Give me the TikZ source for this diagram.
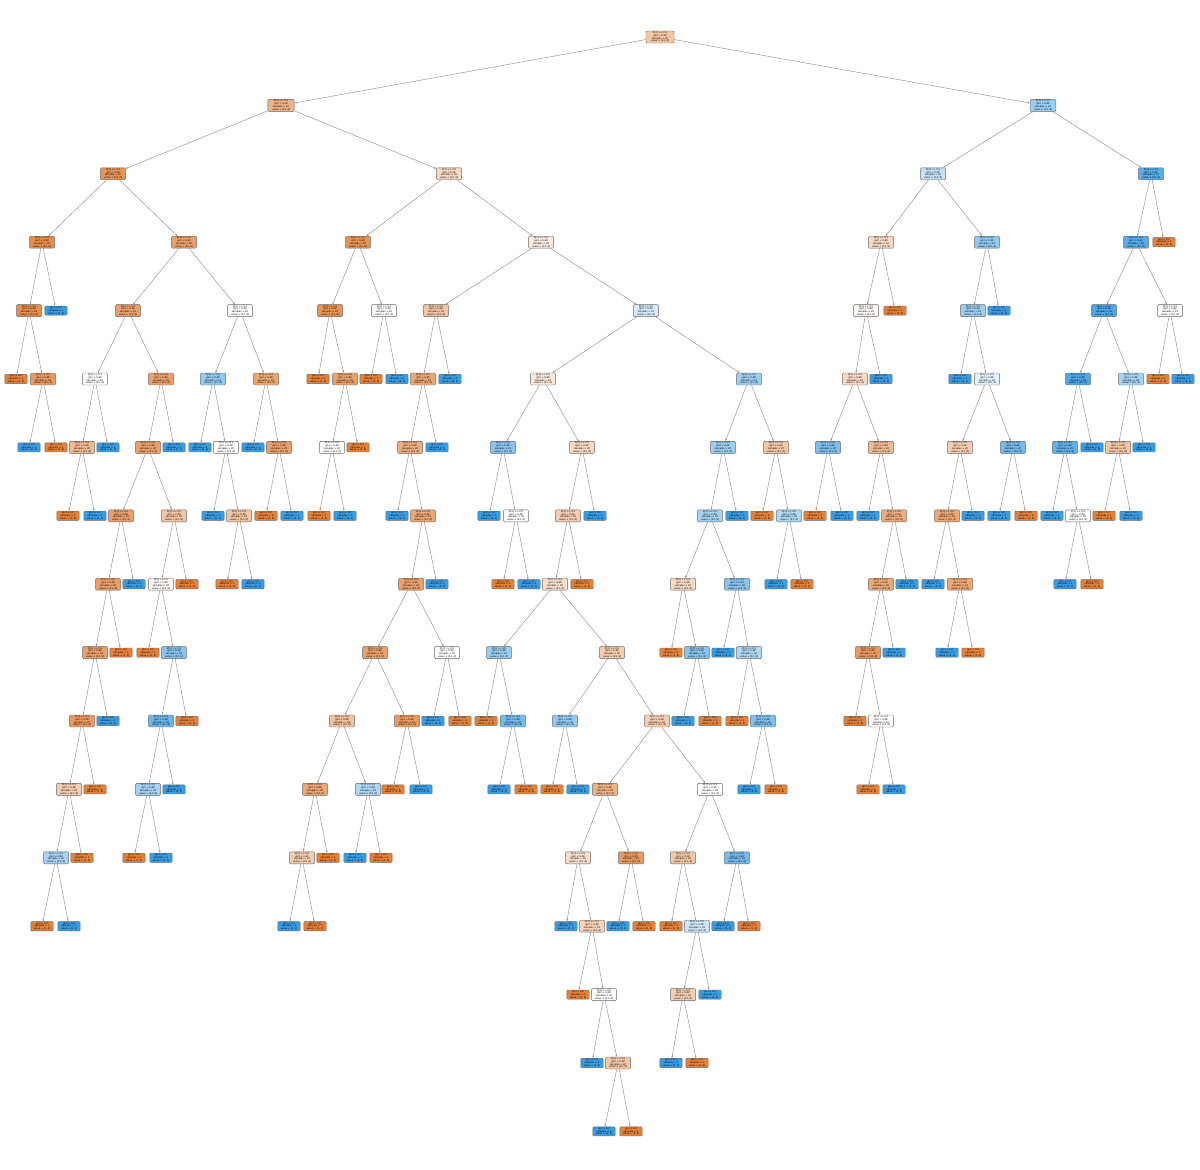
\documentclass[tikz,border=0pt]{standalone}
\usepackage{fontspec}
\newfontfamily\dv{DejaVu Sans}
\usetikzlibrary{arrows.meta}
\definecolor{org}{RGB}{229,129,57}
\definecolor{blu}{RGB}{57,157,229}
\newcommand{\lv}[1]{37+68.4*#1}
\newcommand{\stxt}{X[3] <= 0.5\\gini = 0.48\\samples = 20\\value = [12, 8]}
\newcommand{\otxt}{gini = 0.0\\samples = 1\\value = [1, 0]}
\newcommand{\btxt}{gini = 0.0\\samples = 1\\value = [0, 1]}
\tikzset{
  split/.style={draw=black!60, rounded corners=0.7pt, line width=0.3pt, align=center,
    inner sep=0.5pt, minimum width=0.62cm, font=\dv\fontsize{1.7}{2.0}\selectfont},
  leafo/.style={split, fill=org, minimum width=0.56cm},
  leafb/.style={split, fill=blu, minimum width=0.56cm},
  link/.style={draw=black!45, line width=0.3pt, -{Stealth[length=1.8pt, width=1.2pt]}}
}
\begin{document}
\begin{tikzpicture}[x=0.025cm, y=-0.025cm]
\fill[white] (0,0) rectangle (1200,1169);
\useasboundingbox (0,0) rectangle (1200,1169);
% level 0-3
\node[split, fill=org!45, minimum width=0.7cm] (n0x660) at (660,{\lv{0}}) {\stxt};
\node[split, fill=org!60, minimum width=0.66cm] (n1x281) at (281,{\lv{1}}) {\stxt};
\node[split, fill=blu!50, minimum width=0.64cm] (n1x1043) at (1043,{\lv{1}}) {\stxt};
\node[split, fill=org!85] (n2x113) at (113,{\lv{2}}) {\stxt};
\node[split, fill=org!30] (n2x449) at (449,{\lv{2}}) {\stxt};
\node[split, fill=blu!30] (n2x933) at (933,{\lv{2}}) {\stxt};
\node[split, fill=blu!85] (n2x1151) at (1151,{\lv{2}}) {\stxt};
\node[split, fill=org!90] (n3x42) at (42,{\lv{3}}) {\stxt};
\node[split, fill=org!75] (n3x184) at (184,{\lv{3}}) {\stxt};
\node[split, fill=org!85] (n3x358) at (358,{\lv{3}}) {\stxt};
\node[split, fill=org!15] (n3x541) at (541,{\lv{3}}) {\stxt};
\node[split, fill=org!30] (n3x881) at (881,{\lv{3}}) {\stxt};
\node[split, fill=blu!55] (n3x987) at (987,{\lv{3}}) {\stxt};
\node[split, fill=blu!85] (n3x1136) at (1136,{\lv{3}}) {\stxt};
\node[leafo] (n3x1164) at (1164,{\lv{3}}) {\otxt};
% level 4
\node[split, fill=org!90] (n4x29) at (29,{\lv{4}}) {\stxt};
\node[leafb] (n4x56) at (56,{\lv{4}}) {\btxt};
\node[split, fill=org!75] (n4x128) at (128,{\lv{4}}) {\stxt};
\node[split, fill=white] (n4x240) at (240,{\lv{4}}) {\stxt};
\node[split, fill=org!85] (n4x330) at (330,{\lv{4}}) {\stxt};
\node[split, fill=white] (n4x384) at (384,{\lv{4}}) {\stxt};
\node[split, fill=org!45] (n4x436) at (436,{\lv{4}}) {\stxt};
\node[split, fill=blu!20] (n4x646) at (646,{\lv{4}}) {\stxt};
\node[split, fill=org!5] (n4x866) at (866,{\lv{4}}) {\stxt};
\node[leafo] (n4x895) at (895,{\lv{4}}) {\otxt};
\node[split, fill=blu!50] (n4x973) at (973,{\lv{4}}) {\stxt};
\node[leafb] (n4x999) at (999,{\lv{4}}) {\btxt};
\node[split, fill=blu!90] (n4x1104) at (1104,{\lv{4}}) {\stxt};
\node[split, fill=white] (n4x1170) at (1170,{\lv{4}}) {\stxt};
% level 5
\node[leafo] (n5x16) at (16,{\lv{5}}) {\otxt};
\node[split, fill=org!80] (n5x43) at (43,{\lv{5}}) {\stxt};
\node[split, fill=white] (n5x95) at (95,{\lv{5}}) {\stxt};
\node[split, fill=org!75] (n5x161) at (161,{\lv{5}}) {\stxt};
\node[split, fill=blu!55] (n5x213) at (213,{\lv{5}}) {\stxt};
\node[split, fill=org!70] (n5x266) at (266,{\lv{5}}) {\stxt};
\node[leafo] (n5x318) at (318,{\lv{5}}) {\otxt};
\node[split, fill=org!75] (n5x345) at (345,{\lv{5}}) {\stxt};
\node[leafo] (n5x371) at (371,{\lv{5}}) {\otxt};
\node[leafb] (n5x397) at (397,{\lv{5}}) {\btxt};
\node[split, fill=org!70] (n5x423) at (423,{\lv{5}}) {\stxt};
\node[leafb] (n5x450) at (450,{\lv{5}}) {\btxt};
\node[split, fill=org!20] (n5x543) at (543,{\lv{5}}) {\stxt};
\node[split, fill=blu!50] (n5x749) at (749,{\lv{5}}) {\stxt};
\node[split, fill=org!30] (n5x855) at (855,{\lv{5}}) {\stxt};
\node[leafb] (n5x881) at (881,{\lv{5}}) {\btxt};
\node[leafb] (n5x960) at (960,{\lv{5}}) {\btxt};
\node[split, fill=blu!15] (n5x987) at (987,{\lv{5}}) {\stxt};
\node[split, fill=blu!90] (n5x1078) at (1078,{\lv{5}}) {\stxt};
\node[split, fill=blu!45] (n5x1131) at (1131,{\lv{5}}) {\stxt};
\node[leafo] (n5x1158) at (1158,{\lv{5}}) {\otxt};
\node[leafb] (n5x1183) at (1183,{\lv{5}}) {\btxt};
% level 6
\node[leafb] (n6x29) at (29,{\lv{6}}) {\btxt};
\node[leafo] (n6x56) at (56,{\lv{6}}) {\otxt};
\node[split, fill=org!55] (n6x82) at (82,{\lv{6}}) {\stxt};
\node[leafb] (n6x108) at (108,{\lv{6}}) {\btxt};
\node[split, fill=org!75] (n6x148) at (148,{\lv{6}}) {\stxt};
\node[leafb] (n6x174) at (174,{\lv{6}}) {\btxt};
\node[leafb] (n6x200) at (200,{\lv{6}}) {\btxt};
\node[split, fill=white] (n6x226) at (226,{\lv{6}}) {\stxt};
\node[leafb] (n6x253) at (253,{\lv{6}}) {\btxt};
\node[split, fill=org!75] (n6x279) at (279,{\lv{6}}) {\stxt};
\node[split, fill=white] (n6x332) at (332,{\lv{6}}) {\stxt};
\node[leafo] (n6x358) at (358,{\lv{6}}) {\otxt};
\node[split, fill=org!65] (n6x410) at (410,{\lv{6}}) {\stxt};
\node[leafb] (n6x437) at (437,{\lv{6}}) {\btxt};
\node[split, fill=blu!60] (n6x503) at (503,{\lv{6}}) {\stxt};
\node[split, fill=org!30] (n6x582) at (582,{\lv{6}}) {\stxt};
\node[split, fill=blu!50] (n6x723) at (723,{\lv{6}}) {\stxt};
\node[split, fill=org!45] (n6x776) at (776,{\lv{6}}) {\stxt};
\node[split, fill=blu!65] (n6x828) at (828,{\lv{6}}) {\stxt};
\node[split, fill=org!55] (n6x881) at (881,{\lv{6}}) {\stxt};
\node[split, fill=org!40] (n6x960) at (960,{\lv{6}}) {\stxt};
\node[split, fill=blu!70] (n6x1013) at (1013,{\lv{6}}) {\stxt};
\node[split, fill=blu!80] (n6x1065) at (1065,{\lv{6}}) {\stxt};
\node[leafb] (n6x1092) at (1092,{\lv{6}}) {\btxt};
\node[split, fill=org!45] (n6x1118) at (1118,{\lv{6}}) {\stxt};
\node[leafb] (n6x1144) at (1144,{\lv{6}}) {\btxt};
% level 7
\node[leafo] (n7x68) at (68,{\lv{7}}) {\otxt};
\node[leafb] (n7x95) at (95,{\lv{7}}) {\btxt};
\node[split, fill=org!75] (n7x121) at (121,{\lv{7}}) {\stxt};
\node[split, fill=org!45] (n7x174) at (174,{\lv{7}}) {\stxt};
\node[leafb] (n7x213) at (213,{\lv{7}}) {\btxt};
\node[split, fill=org!45] (n7x239) at (239,{\lv{7}}) {\stxt};
\node[leafo] (n7x266) at (266,{\lv{7}}) {\otxt};
\node[leafb] (n7x292) at (292,{\lv{7}}) {\btxt};
\node[leafo] (n7x319) at (319,{\lv{7}}) {\otxt};
\node[leafb] (n7x345) at (345,{\lv{7}}) {\btxt};
\node[leafb] (n7x397) at (397,{\lv{7}}) {\btxt};
\node[split, fill=org!70] (n7x423) at (423,{\lv{7}}) {\stxt};
\node[leafb] (n7x489) at (489,{\lv{7}}) {\btxt};
\node[split, fill=white] (n7x516) at (516,{\lv{7}}) {\stxt};
\node[split, fill=org!40] (n7x568) at (568,{\lv{7}}) {\stxt};
\node[leafb] (n7x595) at (595,{\lv{7}}) {\btxt};
\node[split, fill=blu!45] (n7x710) at (710,{\lv{7}}) {\stxt};
\node[leafb] (n7x737) at (737,{\lv{7}}) {\btxt};
\node[leafo] (n7x762) at (762,{\lv{7}}) {\otxt};
\node[split, fill=blu!40] (n7x789) at (789,{\lv{7}}) {\stxt};
\node[leafo] (n7x815) at (815,{\lv{7}}) {\otxt};
\node[leafb] (n7x842) at (842,{\lv{7}}) {\btxt};
\node[leafb] (n7x868) at (868,{\lv{7}}) {\btxt};
\node[split, fill=org!65] (n7x894) at (894,{\lv{7}}) {\stxt};
\node[split, fill=org!70] (n7x947) at (947,{\lv{7}}) {\stxt};
\node[leafb] (n7x973) at (973,{\lv{7}}) {\btxt};
\node[leafb] (n7x999) at (999,{\lv{7}}) {\btxt};
\node[leafo] (n7x1026) at (1026,{\lv{7}}) {\otxt};
\node[leafb] (n7x1052) at (1052,{\lv{7}}) {\btxt};
\node[split, fill=white] (n7x1078) at (1078,{\lv{7}}) {\stxt};
\node[leafo] (n7x1104) at (1104,{\lv{7}}) {\otxt};
\node[leafb] (n7x1131) at (1131,{\lv{7}}) {\btxt};
% level 8
\node[split, fill=org!75] (n8x108) at (108,{\lv{8}}) {\stxt};
\node[leafb] (n8x134) at (134,{\lv{8}}) {\btxt};
\node[split, fill=org!5] (n8x161) at (161,{\lv{8}}) {\stxt};
\node[leafo] (n8x187) at (187,{\lv{8}}) {\otxt};
\node[leafo] (n8x227) at (227,{\lv{8}}) {\otxt};
\node[leafb] (n8x253) at (253,{\lv{8}}) {\btxt};
\node[split, fill=org!75] (n8x411) at (411,{\lv{8}}) {\stxt};
\node[leafb] (n8x437) at (437,{\lv{8}}) {\btxt};
\node[leafo] (n8x503) at (503,{\lv{8}}) {\otxt};
\node[leafb] (n8x529) at (529,{\lv{8}}) {\btxt};
\node[split, fill=org!25] (n8x555) at (555,{\lv{8}}) {\stxt};
\node[leafo] (n8x582) at (582,{\lv{8}}) {\otxt};
\node[split, fill=org!30] (n8x683) at (683,{\lv{8}}) {\stxt};
\node[split, fill=blu!60] (n8x737) at (737,{\lv{8}}) {\stxt};
\node[leafb] (n8x776) at (776,{\lv{8}}) {\btxt};
\node[leafo] (n8x802) at (802,{\lv{8}}) {\otxt};
\node[split, fill=org!70] (n8x881) at (881,{\lv{8}}) {\stxt};
\node[leafb] (n8x907) at (907,{\lv{8}}) {\btxt};
\node[leafb] (n8x933) at (933,{\lv{8}}) {\btxt};
\node[split, fill=org!70] (n8x960) at (960,{\lv{8}}) {\stxt};
\node[leafb] (n8x1065) at (1065,{\lv{8}}) {\btxt};
\node[leafo] (n8x1092) at (1092,{\lv{8}}) {\otxt};
% level 9
\node[split, fill=org!75] (n9x95) at (95,{\lv{9}}) {\stxt};
\node[leafo] (n9x121) at (121,{\lv{9}}) {\otxt};
\node[leafo] (n9x148) at (148,{\lv{9}}) {\otxt};
\node[split, fill=blu!60] (n9x174) at (174,{\lv{9}}) {\stxt};
\node[split, fill=org!75] (n9x375) at (375,{\lv{9}}) {\stxt};
\node[split, fill=white] (n9x447) at (447,{\lv{9}}) {\stxt};
\node[split, fill=blu!50] (n9x499) at (499,{\lv{9}}) {\stxt};
\node[split, fill=org!40] (n9x612) at (612,{\lv{9}}) {\stxt};
\node[leafo] (n9x671) at (671,{\lv{9}}) {\otxt};
\node[split, fill=blu!60] (n9x697) at (697,{\lv{9}}) {\stxt};
\node[leafb] (n9x723) at (723,{\lv{9}}) {\btxt};
\node[split, fill=blu!40] (n9x749) at (749,{\lv{9}}) {\stxt};
\node[split, fill=org!80] (n9x868) at (868,{\lv{9}}) {\stxt};
\node[leafb] (n9x894) at (894,{\lv{9}}) {\btxt};
\node[leafb] (n9x947) at (947,{\lv{9}}) {\btxt};
\node[leafo] (n9x973) at (973,{\lv{9}}) {\otxt};
% level 10
\node[split, fill=org!80] (n10x82) at (82,{\lv{10}}) {\stxt};
\node[leafb] (n10x108) at (108,{\lv{10}}) {\btxt};
\node[split, fill=blu!75] (n10x161) at (161,{\lv{10}}) {\stxt};
\node[leafo] (n10x187) at (187,{\lv{10}}) {\otxt};
\node[split, fill=org!50] (n10x342) at (342,{\lv{10}}) {\stxt};
\node[split, fill=org!80] (n10x407) at (407,{\lv{10}}) {\stxt};
\node[leafb] (n10x433) at (433,{\lv{10}}) {\btxt};
\node[leafo] (n10x460) at (460,{\lv{10}}) {\otxt};
\node[leafo] (n10x486) at (486,{\lv{10}}) {\otxt};
\node[split, fill=blu!70] (n10x513) at (513,{\lv{10}}) {\stxt};
\node[split, fill=blu!55] (n10x565) at (565,{\lv{10}}) {\stxt};
\node[split, fill=org!40] (n10x657) at (657,{\lv{10}}) {\stxt};
\node[leafb] (n10x683) at (683,{\lv{10}}) {\btxt};
\node[leafo] (n10x710) at (710,{\lv{10}}) {\otxt};
\node[leafo] (n10x737) at (737,{\lv{10}}) {\otxt};
\node[split, fill=blu!65] (n10x763) at (763,{\lv{10}}) {\stxt};
\node[leafo] (n10x855) at (855,{\lv{10}}) {\otxt};
\node[split, fill=white] (n10x881) at (881,{\lv{10}}) {\stxt};
% level 11
\node[split, fill=org!40] (n11x69) at (69,{\lv{11}}) {\stxt};
\node[leafo] (n11x95) at (95,{\lv{11}}) {\otxt};
\node[split, fill=blu!45] (n11x148) at (148,{\lv{11}}) {\stxt};
\node[leafb] (n11x174) at (174,{\lv{11}}) {\btxt};
\node[split, fill=org!70] (n11x315) at (315,{\lv{11}}) {\stxt};
\node[split, fill=blu!40] (n11x368) at (368,{\lv{11}}) {\stxt};
\node[leafo] (n11x393) at (393,{\lv{11}}) {\otxt};
\node[leafb] (n11x421) at (421,{\lv{11}}) {\btxt};
\node[leafb] (n11x499) at (499,{\lv{11}}) {\btxt};
\node[leafo] (n11x526) at (526,{\lv{11}}) {\otxt};
\node[leafo] (n11x552) at (552,{\lv{11}}) {\otxt};
\node[leafb] (n11x578) at (578,{\lv{11}}) {\btxt};
\node[split, fill=org!60] (n11x605) at (605,{\lv{11}}) {\stxt};
\node[split, fill=white] (n11x710) at (710,{\lv{11}}) {\stxt};
\node[leafb] (n11x749) at (749,{\lv{11}}) {\btxt};
\node[leafo] (n11x776) at (776,{\lv{11}}) {\otxt};
\node[leafo] (n11x868) at (868,{\lv{11}}) {\otxt};
\node[leafb] (n11x894) at (894,{\lv{11}}) {\btxt};
% level 12
\node[split, fill=blu!45] (n12x56) at (56,{\lv{12}}) {\stxt};
\node[leafo] (n12x82) at (82,{\lv{12}}) {\otxt};
\node[leafo] (n12x134) at (134,{\lv{12}}) {\otxt};
\node[leafb] (n12x161) at (161,{\lv{12}}) {\btxt};
\node[split, fill=org!40] (n12x302) at (302,{\lv{12}}) {\stxt};
\node[leafo] (n12x328) at (328,{\lv{12}}) {\otxt};
\node[leafb] (n12x355) at (355,{\lv{12}}) {\btxt};
\node[leafo] (n12x381) at (381,{\lv{12}}) {\otxt};
\node[split, fill=org!25] (n12x578) at (578,{\lv{12}}) {\stxt};
\node[split, fill=org!80] (n12x631) at (631,{\lv{12}}) {\stxt};
\node[split, fill=org!45] (n12x683) at (683,{\lv{12}}) {\stxt};
\node[split, fill=blu!70] (n12x737) at (737,{\lv{12}}) {\stxt};
% level 13-16
\node[leafo] (n13x42) at (42,{\lv{13}}) {\otxt};
\node[leafb] (n13x69) at (69,{\lv{13}}) {\btxt};
\node[leafb] (n13x289) at (289,{\lv{13}}) {\btxt};
\node[leafo] (n13x315) at (315,{\lv{13}}) {\otxt};
\node[leafb] (n13x566) at (566,{\lv{13}}) {\btxt};
\node[split, fill=org!35] (n13x592) at (592,{\lv{13}}) {\stxt};
\node[leafb] (n13x618) at (618,{\lv{13}}) {\btxt};
\node[leafo] (n13x644) at (644,{\lv{13}}) {\otxt};
\node[leafo] (n13x671) at (671,{\lv{13}}) {\otxt};
\node[split, fill=blu!25] (n13x697) at (697,{\lv{13}}) {\stxt};
\node[leafb] (n13x723) at (723,{\lv{13}}) {\btxt};
\node[leafo] (n13x749) at (749,{\lv{13}}) {\otxt};
\node[leafo] (n14x578) at (578,{\lv{14}}) {\otxt};
\node[split, fill=white] (n14x604) at (604,{\lv{14}}) {\stxt};
\node[split, fill=org!40] (n14x683) at (683,{\lv{14}}) {\stxt};
\node[leafb] (n14x710) at (710,{\lv{14}}) {\btxt};
\node[leafb] (n15x592) at (592,{\lv{15}}) {\btxt};
\node[split, fill=org!45] (n15x618) at (618,{\lv{15}}) {\stxt};
\node[leafb] (n15x671) at (671,{\lv{15}}) {\btxt};
\node[leafo] (n15x697) at (697,{\lv{15}}) {\otxt};
\node[leafb] (n16x604) at (604,{\lv{16}}) {\btxt};
\node[leafo] (n16x631) at (631,{\lv{16}}) {\otxt};
% connectors
\foreach \p/\c in {n0x660/n1x281, n0x660/n1x1043,
  n1x281/n2x113, n1x281/n2x449, n1x1043/n2x933, n1x1043/n2x1151,
  n2x113/n3x42, n2x113/n3x184, n2x449/n3x358, n2x449/n3x541, n2x933/n3x881, n2x933/n3x987, n2x1151/n3x1136, n2x1151/n3x1164,
  n3x42/n4x29, n3x42/n4x56, n3x184/n4x128, n3x184/n4x240, n3x358/n4x330, n3x358/n4x384, n3x541/n4x436, n3x541/n4x646,
  n3x881/n4x866, n3x881/n4x895, n3x987/n4x973, n3x987/n4x999, n3x1136/n4x1104, n3x1136/n4x1170,
  n4x29/n5x16, n4x29/n5x43, n4x128/n5x95, n4x128/n5x161, n4x240/n5x213, n4x240/n5x266, n4x330/n5x318, n4x330/n5x345,
  n4x384/n5x371, n4x384/n5x397, n4x436/n5x423, n4x436/n5x450, n4x646/n5x543, n4x646/n5x749, n4x866/n5x855, n4x866/n5x881,
  n4x973/n5x960, n4x973/n5x987, n4x1104/n5x1078, n4x1104/n5x1131, n4x1170/n5x1158, n4x1170/n5x1183,
  n5x43/n6x29, n5x43/n6x56, n5x95/n6x82, n5x95/n6x108, n5x161/n6x148, n5x161/n6x174, n5x213/n6x200, n5x213/n6x226,
  n5x266/n6x253, n5x266/n6x279, n5x345/n6x332, n5x345/n6x358, n5x423/n6x410, n5x423/n6x437, n5x543/n6x503, n5x543/n6x582,
  n5x749/n6x723, n5x749/n6x776, n5x855/n6x828, n5x855/n6x881, n5x987/n6x960, n5x987/n6x1013, n5x1078/n6x1065, n5x1078/n6x1092,
  n5x1131/n6x1118, n5x1131/n6x1144,
  n6x82/n7x68, n6x82/n7x95, n6x148/n7x121, n6x148/n7x174, n6x226/n7x213, n6x226/n7x239, n6x279/n7x266, n6x279/n7x292,
  n6x332/n7x319, n6x332/n7x345, n6x410/n7x397, n6x410/n7x423, n6x503/n7x489, n6x503/n7x516, n6x582/n7x568, n6x582/n7x595,
  n6x723/n7x710, n6x723/n7x737, n6x776/n7x762, n6x776/n7x789, n6x828/n7x815, n6x828/n7x842, n6x881/n7x868, n6x881/n7x894,
  n6x960/n7x947, n6x960/n7x973, n6x1013/n7x999, n6x1013/n7x1026, n6x1065/n7x1052, n6x1065/n7x1078, n6x1118/n7x1104, n6x1118/n7x1131,
  n7x121/n8x108, n7x121/n8x134, n7x174/n8x161, n7x174/n8x187, n7x239/n8x227, n7x239/n8x253, n7x423/n8x411, n7x423/n8x437,
  n7x516/n8x503, n7x516/n8x529, n7x568/n8x555, n7x568/n8x582, n7x710/n8x683, n7x710/n8x737, n7x789/n8x776, n7x789/n8x802,
  n7x894/n8x881, n7x894/n8x907, n7x947/n8x933, n7x947/n8x960, n7x1078/n8x1065, n7x1078/n8x1092,
  n8x108/n9x95, n8x108/n9x121, n8x161/n9x148, n8x161/n9x174, n8x411/n9x375, n8x411/n9x447, n8x555/n9x499, n8x555/n9x612,
  n8x683/n9x671, n8x683/n9x697, n8x737/n9x723, n8x737/n9x749, n8x881/n9x868, n8x881/n9x894, n8x960/n9x947, n8x960/n9x973,
  n9x95/n10x82, n9x95/n10x108, n9x174/n10x161, n9x174/n10x187, n9x375/n10x342, n9x375/n10x407, n9x447/n10x433, n9x447/n10x460,
  n9x499/n10x486, n9x499/n10x513, n9x612/n10x565, n9x612/n10x657, n9x697/n10x683, n9x697/n10x710, n9x749/n10x737, n9x749/n10x763,
  n9x868/n10x855, n9x868/n10x881,
  n10x82/n11x69, n10x82/n11x95, n10x161/n11x148, n10x161/n11x174, n10x342/n11x315, n10x342/n11x368, n10x407/n11x393, n10x407/n11x421,
  n10x513/n11x499, n10x513/n11x526, n10x565/n11x552, n10x565/n11x578, n10x657/n11x605, n10x657/n11x710, n10x763/n11x749, n10x763/n11x776,
  n10x881/n11x868, n10x881/n11x894,
  n11x69/n12x56, n11x69/n12x82, n11x148/n12x134, n11x148/n12x161, n11x315/n12x302, n11x315/n12x328, n11x368/n12x355, n11x368/n12x381,
  n11x605/n12x578, n11x605/n12x631, n11x710/n12x683, n11x710/n12x737,
  n12x56/n13x42, n12x56/n13x69, n12x302/n13x289, n12x302/n13x315, n12x578/n13x566, n12x578/n13x592, n12x631/n13x618, n12x631/n13x644,
  n12x683/n13x671, n12x683/n13x697, n12x737/n13x723, n12x737/n13x749,
  n13x592/n14x578, n13x592/n14x604, n13x697/n14x683, n13x697/n14x710,
  n14x604/n15x592, n14x604/n15x618, n14x683/n15x671, n14x683/n15x697,
  n15x618/n16x604, n15x618/n16x631}
  \draw[link] (\p) -- (\c);
\end{tikzpicture}
\end{document}
